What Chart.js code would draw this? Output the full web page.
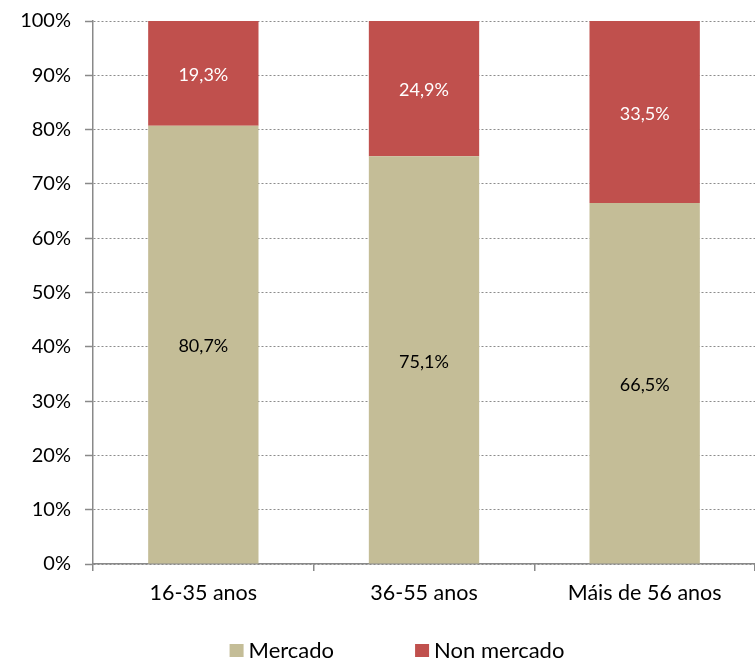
<!DOCTYPE html>
<html><head><meta charset="utf-8">
<script src="https://cdn.jsdelivr.net/npm/chart.js@4"></script>
<style>html,body{margin:0;padding:0;background:#fff}#w{width:755px;height:659px}</style>
</head><body><div id="w"><canvas id="c"></canvas></div>
<script>
const categories = ["16-35 anos", "36-55 anos", "Máis de 56 anos"];
const mercado = [80.7, 75.1, 66.5];
const nonMercado = [19.3, 24.9, 33.5];
const seriesNames = ["Mercado", "Non mercado"];
const FONT = "Lato, 'Open Sans', sans-serif";

const labelPlugin = {
  id: 'segLabels',
  afterDatasetsDraw(chart) {
    const ctx = chart.ctx;
    ctx.save();
    ctx.font = "18px " + FONT;
    ctx.textAlign = 'center';
    ctx.textBaseline = 'middle';
    chart.data.datasets.forEach((ds, di) => {
      const meta = chart.getDatasetMeta(di);
      meta.data.forEach((bar, i) => {
        const y = (bar.y + bar.base) / 2 + 2;
        ctx.fillStyle = di === 0 ? '#000' : '#fff';
        ctx.fillText(ds.data[i].toFixed(1).replace('.', ',') + '%', bar.x, y);
      });
    });
    ctx.restore();
  }
};

const legendPlugin = {
  id: 'bottomLegend',
  afterDraw(chart) {
    const ctx = chart.ctx;
    ctx.save();
    ctx.font = "22px " + FONT;
    ctx.textBaseline = 'middle';
    ctx.textAlign = 'left';
    const box = 14, gapText = 5, gapItem = 81, cx = 397, cy = 650;
    const items = chart.data.datasets.map(ds => ({ text: ds.label, color: ds.backgroundColor, w: ctx.measureText(ds.label).width }));
    const total = items.reduce((s, it) => s + box + gapText + it.w, 0) + gapItem * (items.length - 1);
    let x = cx - total / 2;
    items.forEach(it => {
      ctx.fillStyle = it.color;
      ctx.fillRect(x, cy - 6, box, 13);
      ctx.fillStyle = '#000';
      ctx.fillText(it.text, x + box + gapText, cy + 1);
      x += box + gapText + it.w + gapItem;
    });
    ctx.restore();
  }
};

new Chart(document.getElementById('c'), {
  type: 'bar',
  data: {
    labels: categories,
    datasets: [
      { label: seriesNames[0], data: mercado, backgroundColor: '#C4BD97', barPercentage: 1, categoryPercentage: 0.5 },
      { label: seriesNames[1], data: nonMercado, backgroundColor: '#C0504D', barPercentage: 1, categoryPercentage: 0.5 }
    ]
  },
  options: {
    responsive: true, maintainAspectRatio: false, animation: false,
    layout: { padding: { top: 21, right: 0, left: 0, bottom: 45 } },
    plugins: {
      tooltip: { enabled: false },
      legend: { display: false }
    },
    scales: {
      x: {
        stacked: true,
        afterFit(s) { s.height = 50; s.paddingLeft = 0; s.paddingRight = 0; },
        grid: { offset: true, drawOnChartArea: false, color: '#898989', tickLength: 7, lineWidth: 1.5 },
        border: { color: '#898989', width: 1.5 },
        ticks: { font: { family: FONT, size: 21.5 }, color: '#000', padding: 9 }
      },
      y: {
        stacked: true, min: 0, max: 100,
        afterFit(s) { s.width = 93; s.paddingTop = 0; s.paddingBottom = 0; },
        grid: { color: '#8c8c8c', tickLength: 8, tickBorderDash: [], tickColor: '#898989', tickWidth: 1.5 },
        border: { color: '#898989', width: 1.5, dash: [2, 2] },
        ticks: { stepSize: 10, font: { family: FONT, size: 20 }, color: '#000', padding: 14, callback: v => v + '%' }
      }
    }
  },
  plugins: [labelPlugin, legendPlugin]
});
</script></body></html>
